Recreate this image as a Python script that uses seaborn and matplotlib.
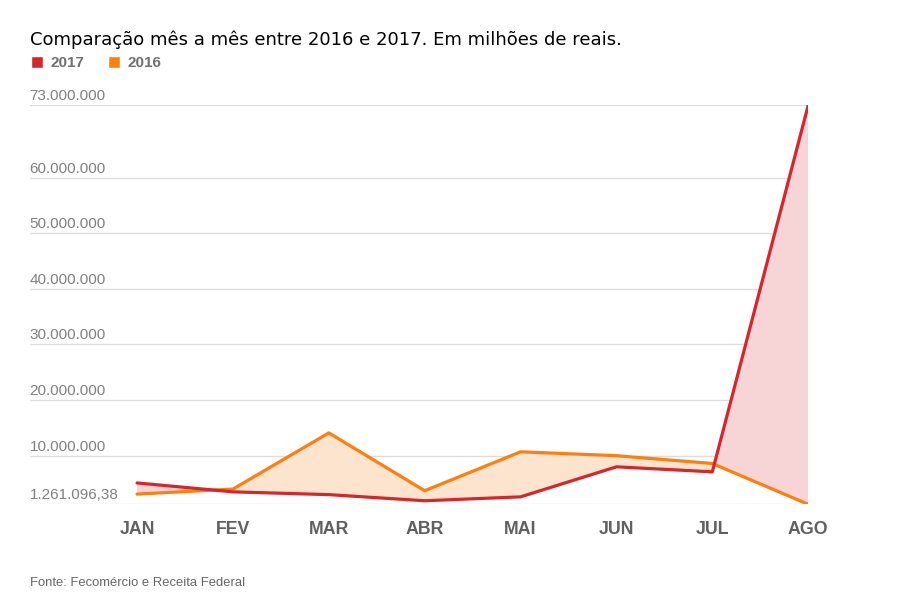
import matplotlib
matplotlib.use("Agg")
import matplotlib.pyplot as plt
import matplotlib.transforms as mtrans
from matplotlib.lines import Line2D
import pandas as pd
import seaborn as sns
import numpy as np

# valores (reais)
meses = ["JAN", "FEV", "MAR", "ABR", "MAI", "JUN", "JUL", "AGO"]
v2017 = [5.1e6, 3.5e6, 3.0e6, 1.9e6, 2.6e6, 8.0e6, 7.1e6, 73.0e6]
v2016 = [3.1e6, 4.0e6, 14.1e6, 3.7e6, 10.7e6, 10.0e6, 8.6e6, 1.26e6]
yticks = [1261096.38, 10e6, 20e6, 30e6, 40e6, 50e6, 60e6, 73e6]
ytick_labels = ["1.261.096,38", "10.000.000", "20.000.000", "30.000.000",
                "40.000.000", "50.000.000", "60.000.000", "73.000.000"]

red = "#d7262b"
orange = "#ff7f0e"

df = pd.DataFrame({"mes": meses * 2,
                   "valor": v2017 + v2016,
                   "ano": ["2017"] * 8 + ["2016"] * 8})

sns.set_theme(style="white")
plt.rcParams["font.family"] = ["Liberation Sans", "DejaVu Sans"]

fig = plt.figure(figsize=(9, 6), dpi=100)
fig.patch.set_facecolor("white")
ax = fig.add_axes([0.033, 0.1595, 0.865, 0.665])

# área entre as duas linhas
x = np.arange(len(meses))
a = np.array(v2017)
b = np.array(v2016)
ax.fill_between(x, a, b, where=b >= a, interpolate=True, color="#fde4cf", lw=0, zorder=1)
ax.fill_between(x, a, b, where=a >= b, interpolate=True, color="#f7d5d7", lw=0, zorder=1)

sns.lineplot(data=df, x="mes", y="valor", hue="ano", palette={"2017": red, "2016": orange},
             hue_order=["2016", "2017"], linewidth=2.3, ax=ax, legend=False, zorder=3)

ax.set_xlim(-1.12, 7.0)
ax.set_ylim(yticks[0], yticks[-1])
ax.set_yticks(yticks)
ax.set_yticklabels(ytick_labels)
ax.yaxis.grid(True, color="#dddddd", linewidth=1)
ax.xaxis.grid(False)
for s in ax.spines.values():
    s.set_visible(False)
ax.tick_params(axis="y", length=0, pad=0, labelsize=11, labelcolor="#808080")
ax.tick_params(axis="x", length=0, pad=12, labelsize=12.8, labelcolor="#606060")
for lab in ax.get_xticklabels():
    lab.set_fontweight("bold")
ax.set_xlabel("")
ax.set_ylabel("")

# rótulos do eixo y por cima da linha de grade
off = mtrans.ScaledTranslation(0, 1.5 / 72, fig.dpi_scale_trans)
for lab in ax.get_yticklabels():
    lab.set_horizontalalignment("left")
    lab.set_verticalalignment("bottom")
    lab.set_transform(lab.get_transform() + off)

fig.text(0.033, 0.933, "Comparação mês a mês entre 2016 e 2017. Em milhões de reais.",
         fontsize=13, color="black", family="DejaVu Sans", va="center", ha="left")

handles = [Line2D([0], [0], marker="s", color="w", markerfacecolor=red, markersize=9, lw=0),
           Line2D([0], [0], marker="s", color="w", markerfacecolor=orange, markersize=9, lw=0)]
leg = fig.legend(handles, ["2017", "2016"], loc="center left", bbox_to_anchor=(0.019, 0.895),
                 ncol=2, frameon=False, handlelength=0.8, handletextpad=0.5, columnspacing=1.5,
                 prop={"weight": "bold", "size": 11})
for t in leg.get_texts():
    t.set_color("#707070")

fig.text(0.033, 0.028, "Fonte: Fecomércio e Receita Federal", fontsize=9.4, color="#666666",
         ha="left", va="center")

fig.savefig("out.png", dpi=100, facecolor="white")
